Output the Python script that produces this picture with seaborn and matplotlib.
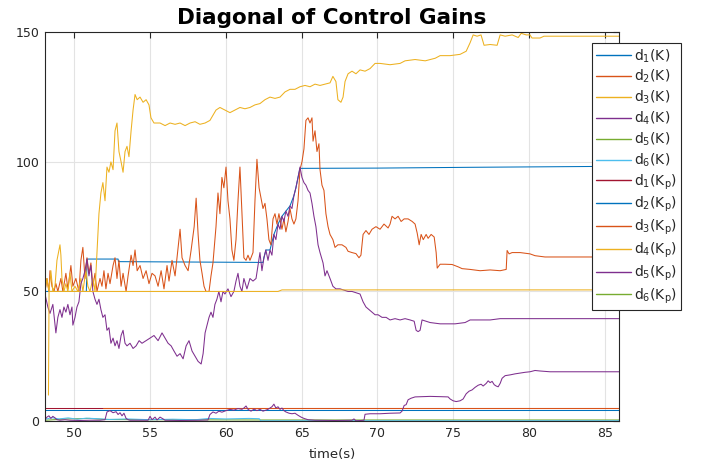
import matplotlib
matplotlib.use("Agg")
import matplotlib.pyplot as plt
import seaborn as sns

# ---- diagonal gains of K ----
d1_K_t = [48.07, 50.80, 50.84, 52.89, 52.92, 62.45, 62.51, 62.64, 62.91, 63.17, 63.44,
          63.70, 63.96, 64.23, 64.49, 64.62, 64.76, 64.89, 70.0, 76.0, 86.0]
d1_K_v = [50.0, 50.0, 62.5, 62.5, 61.5, 61.2, 63.0, 66.0, 66.0, 72.0, 76.0,
          79.0, 81.0, 83.0, 87.0, 90.0, 94.0, 97.5, 97.6, 97.9, 98.3]

d2_K_t = [48.07, 48.20, 48.33, 48.40, 48.53, 48.66, 48.79, 48.92, 49.12, 49.25, 49.45, 49.58,
          49.78, 49.91, 50.11, 50.31, 50.44, 50.57, 50.71, 50.84, 50.97, 51.10, 51.23, 51.37,
          51.50, 51.70, 51.83, 51.96, 52.09, 52.23, 52.36, 52.56, 52.69, 52.82, 52.95, 53.09,
          53.22, 53.42, 53.55, 53.75, 53.88, 54.01, 54.15, 54.34, 54.54, 54.74, 54.93, 55.13,
          55.33, 55.53, 55.73, 55.92, 56.12, 56.25, 56.45, 56.65, 56.85, 56.98, 57.11, 57.31,
          57.51, 57.71, 57.91, 58.04, 58.17, 58.29, 58.43, 58.56, 58.69, 58.89, 59.02, 59.15,
          59.35, 59.48, 59.61, 59.74, 59.87, 60.01, 60.14, 60.27, 60.40, 60.53, 60.67, 60.80,
          60.93, 61.06, 61.19, 61.33, 61.46, 61.59, 61.79, 61.92, 62.05, 62.19, 62.32, 62.45,
          62.58, 62.71, 62.84, 62.97, 63.11, 63.24, 63.37, 63.50, 63.70, 63.83, 63.96, 64.10,
          64.23, 64.36, 64.49, 64.62, 64.76, 64.89, 65.02, 65.15, 65.28, 65.42, 65.55, 65.68,
          65.75, 65.88, 66.01, 66.14, 66.21, 66.34, 66.47, 66.60, 66.74, 66.87, 67.06, 67.20,
          67.39, 67.66, 67.92, 68.06, 68.32, 68.58, 68.78, 68.91, 69.05, 69.24, 69.44, 69.64,
          69.90, 70.17, 70.43, 70.70, 70.83, 70.96, 71.16, 71.36, 71.56, 71.76, 72.02, 72.29,
          72.48, 72.62, 72.75, 72.88, 73.02, 73.21, 73.34, 73.54, 73.74, 73.87, 73.94, 74.13,
          74.46, 74.92, 75.32, 75.58, 76.11, 76.77, 77.43, 78.09, 78.49, 78.55, 78.68, 78.88,
          79.41, 80.06, 80.39, 81.05, 86.0]
d2_K_v = [50, 55, 50, 58, 52, 50, 53, 50, 55, 50, 57, 51,
          60, 52, 55, 50, 62, 67, 55, 63, 57, 61, 52, 57,
          50, 55, 52, 58, 51, 57, 53, 60, 63, 55, 62, 52,
          57, 50, 56, 64, 60, 66, 58, 60, 55, 58, 53, 57,
          56, 52, 58, 51, 60, 54, 62, 56, 67, 74, 63, 60,
          58, 66, 75, 86, 72, 62, 57, 52, 50, 50, 56, 61,
          75, 88, 80, 94, 90, 98, 85, 78, 66, 62, 70, 85,
          98, 80, 63, 62, 64, 62, 65, 85, 101, 90, 86, 82,
          84, 78, 70, 68, 78, 80, 76, 80, 74, 78, 73, 77,
          82, 78, 76, 78, 85, 97, 100, 105, 116, 117, 115, 117,
          108, 112, 104, 107, 97, 91, 89, 80, 75, 72, 70, 67,
          68, 68, 67, 65.5, 65, 64.6, 63, 64, 72, 73.5, 72, 74,
          75, 74, 76, 74.5, 76, 79, 78, 79, 77, 78, 78, 77,
          76, 72.5, 68, 72, 70, 72, 70.5, 72, 71, 65, 59, 60.5,
          60.5, 60.4, 59.5, 58.8, 58.5, 58, 58.3, 58, 58.5, 65.8, 64.5, 65,
          65, 64.5, 63.8, 63.3, 63.3]

d3_K_t = [48.07, 48.20, 48.33, 48.46, 48.59, 48.73, 48.86, 48.99, 49.06, 49.12, 49.19, 49.32,
          49.45, 49.58, 49.72, 49.85, 50.05, 50.24, 50.44, 50.57, 50.77, 50.90, 51.04, 51.23,
          51.37, 51.50, 51.63, 51.76, 51.89, 52.03, 52.16, 52.29, 52.42, 52.56, 52.69, 52.82,
          52.95, 53.09, 53.22, 53.35, 53.48, 53.61, 53.75, 53.88, 54.01, 54.15, 54.34, 54.54,
          54.74, 54.93, 55.06, 55.26, 55.66, 55.99, 56.32, 56.65, 56.98, 57.31, 57.64, 57.97,
          58.29, 58.63, 58.95, 59.15, 59.35, 59.61, 59.94, 60.27, 60.60, 60.93, 61.26, 61.59,
          61.92, 62.25, 62.58, 62.91, 63.24, 63.57, 63.90, 64.23, 64.56, 64.89, 65.22, 65.55,
          65.88, 66.21, 66.54, 66.87, 67.06, 67.26, 67.39, 67.59, 67.73, 67.86, 68.06, 68.32,
          68.58, 68.85, 69.18, 69.51, 69.84, 70.17, 70.83, 71.49, 71.82, 72.48, 73.15, 73.81,
          74.13, 74.79, 75.45, 75.85, 76.11, 76.31, 76.57, 76.83, 77.03, 77.43, 77.89, 78.09,
          78.42, 78.88, 79.28, 79.48, 79.81, 80.06, 80.19, 80.72, 80.98, 86.0]
d3_K_v = [50, 55, 50, 58, 50, 52, 62, 66, 68, 64, 55, 50,
          53, 50, 57, 50, 52, 50, 55, 50, 58, 52, 50, 55,
          50, 65, 80, 88, 92, 85, 98, 96, 100, 97, 112, 115,
          104, 100, 96, 104, 106, 102, 112, 120, 126, 124, 125, 123,
          124, 122, 117, 115, 115, 114, 115, 114.5, 115, 114, 115, 115.5,
          114.5, 115, 116, 118, 120, 121, 120, 119, 120, 121, 120.5, 121,
          122, 122.5, 124, 125, 124.5, 125, 127, 128, 128, 129, 129.5, 129,
          130, 129.5, 130, 130.5, 133, 131, 124, 123, 125, 131, 134, 135,
          134, 135.5, 135, 136, 138, 138, 137.5, 138, 139, 139.5, 139, 140,
          141, 141, 141.5, 142.7, 146, 149, 148.5, 149, 145, 145.3, 145, 149,
          148.5, 149, 148, 149.6, 149, 149, 147.8, 147.8, 148.5, 148.5]

d4_K_t = [48.07, 48.26, 48.40, 48.59, 48.79, 48.92, 49.06, 49.19, 49.32, 49.45, 49.58, 49.72,
          49.85, 49.91, 50.05, 50.18, 50.31, 50.44, 50.57, 50.71, 50.84, 50.97, 51.10, 51.23,
          51.37, 51.50, 51.63, 51.76, 51.89, 52.03, 52.16, 52.29, 52.42, 52.56, 52.69, 52.82,
          52.95, 53.09, 53.22, 53.35, 53.48, 53.68, 53.88, 54.08, 54.28, 54.47, 54.74, 55.00,
          55.26, 55.53, 55.79, 55.99, 56.19, 56.39, 56.58, 56.78, 56.98, 57.18, 57.38, 57.57,
          57.77, 57.97, 58.17, 58.37, 58.50, 58.63, 58.76, 58.89, 59.02, 59.15, 59.28, 59.41,
          59.54, 59.68, 59.81, 59.94, 60.14, 60.34, 60.53, 60.67, 60.80, 60.93, 61.06, 61.19,
          61.39, 61.59, 61.79, 61.99, 62.12, 62.25, 62.38, 62.51, 62.64, 62.78, 62.91, 63.04,
          63.17, 63.30, 63.44, 63.57, 63.70, 63.83, 63.96, 64.10, 64.23, 64.36, 64.49, 64.62,
          64.76, 64.89, 65.02, 65.15, 65.28, 65.42, 65.55, 65.68, 65.81, 65.94, 66.08, 66.21,
          66.41, 66.54, 66.67, 66.87, 67.06, 67.26, 67.53, 67.79, 68.06, 68.32, 68.58, 68.85,
          69.05, 69.24, 69.44, 69.64, 69.84, 70.04, 70.30, 70.57, 70.83, 71.16, 71.49, 71.82,
          72.15, 72.42, 72.55, 72.68, 72.81, 72.94, 73.21, 73.47, 74.13, 75.12, 75.78, 76.11,
          76.77, 77.43, 78.09, 79.41, 86.0]
d4_K_v = [49, 44, 41.5, 45, 34, 40, 43, 40, 44, 42, 45, 41,
          44, 37, 40, 44, 46, 53, 55, 58, 62.5, 56, 60, 50,
          47, 45, 47, 43, 40, 41, 35, 36, 30, 32, 29, 31,
          28, 33, 35, 30, 29, 30, 28, 29, 31, 30, 31, 32,
          33, 31, 34, 32, 30, 29, 27, 25, 26, 24, 29, 31,
          27, 25, 23, 22, 26, 34, 37, 40, 42, 40, 45, 47,
          50, 46, 50, 49, 51, 48, 50, 54, 57, 52, 50, 55,
          51, 55, 54, 55, 60, 65, 58, 63, 66, 62, 66, 64,
          72, 70, 76, 74, 79, 77, 81, 79, 83, 82, 87, 90,
          94, 98, 94, 92, 91, 89, 88, 84, 79, 75, 68, 65,
          61, 56, 58, 55, 52, 51, 51, 50.5, 50, 50, 49.5, 49,
          46, 44, 43, 42, 41, 41, 40, 40, 39, 39.5, 39, 39.5,
          39, 38.5, 35, 34.5, 35, 39, 38.5, 38, 37.5, 37.5, 38, 39,
          39, 39, 39.5, 39.5, 39.5]

d5_K_t = [48.07, 49.5, 51.0, 52.0, 55.0, 62.3, 86.0]
d5_K_v = [0.3, 0.8, 1.0, 0.6, 0.5, 0.4, 0.4]

d6_K_t = [48.07, 48.5, 49.0, 49.6, 50.2, 50.8, 51.5, 52.3, 53.5, 55.0, 56.5, 58.0,
          58.9, 60.0, 61.5, 62.2, 62.3, 86.0]
d6_K_v = [0.6, 1.3, 0.8, 1.2, 0.7, 1.1, 0.9, 0.6, 0.8, 0.5, 0.7, 0.5,
          1.0, 0.8, 1.0, 0.9, 0.1, 0.1]

# ---- diagonal gains of Kp ----
d1_Kp_t = [48.07, 86.0]
d1_Kp_v = [5.0, 5.0]

d2_Kp_t = [48.07, 86.0]
d2_Kp_v = [4.4, 4.4]

d3_Kp_t = [51.90, 86.0]
d3_Kp_v = [5.0, 5.0]

d4_Kp_t = [48.30, 48.34, 63.44, 63.70, 86.0]
d4_Kp_v = [10.0, 50.0, 50.0, 50.6, 50.6]

d5_Kp_t = [48.07, 48.20, 48.33, 48.46, 48.59, 48.73, 48.86, 49.06, 49.39, 49.72, 50.38, 51.04,
           51.70, 52.03, 52.16, 52.36, 52.56, 52.76, 52.89, 53.02, 53.15, 53.28, 53.42, 53.55,
           53.68, 54.34, 54.87, 55.00, 55.13, 55.33, 55.46, 55.66, 55.86, 55.99, 56.98, 58.29,
           58.82, 58.95, 59.15, 59.35, 59.54, 59.74, 60.01, 60.27, 60.53, 60.80, 61.06, 61.19,
           61.33, 61.46, 61.66, 61.86, 62.05, 62.25, 62.45, 62.64, 62.78, 62.91, 63.04, 63.17,
           63.30, 63.44, 63.57, 63.70, 63.83, 63.96, 64.17, 64.36, 64.56, 64.76, 64.96, 65.15,
           65.42, 65.88, 67.20, 68.32, 68.45, 68.58, 68.91, 69.11, 69.18, 69.51, 70.17, 70.83,
           71.49, 71.62, 71.76, 71.89, 72.02, 72.22, 72.48, 73.47, 74.13, 74.66, 74.79, 74.99,
           75.19, 75.45, 75.65, 75.85, 76.04, 76.24, 76.44, 76.64, 76.83, 76.97, 77.17, 77.30,
           77.43, 77.56, 77.70, 77.83, 77.96, 78.09, 78.22, 78.42, 78.75, 79.08, 79.41, 79.74,
           80.06, 80.39, 80.72, 81.38, 86.0]
d5_Kp_v = [0.5, 1.5, 2.0, 1.0, 1.8, 1.2, 0.5, 0.3, 0.5, 0.3, 0.2, 0.3,
           0.3, 0.5, 3.5, 4.0, 3.2, 3.6, 2.5, 3.2, 2.0, 3.0, 1.0, 0.5,
           0.3, 0.3, 0.3, 1.8, 0.5, 1.5, 0.4, 1.5, 0.8, 0.3, 0.2, 0.3,
           0.4, 2.5, 3.5, 3.0, 3.8, 3.4, 4.0, 4.5, 4.2, 4.8, 4.5, 5.0,
           5.8, 4.5, 3.8, 4.6, 4.0, 4.5, 3.8, 4.2, 4.5, 5.0, 5.5, 6.5,
           5.0, 5.5, 4.5, 5.0, 4.0, 3.5, 3.0, 2.8, 3.0, 2.2, 1.5, 1.0,
           0.5, 0.3, 0.2, 0.3, 0.8, 0.1, 0.2, 0.3, 2.6, 2.8, 2.8, 3.0,
           3.1, 3.8, 6.0, 6.3, 8.2, 8.8, 9.3, 9.5, 9.4, 9.3, 8.5, 7.8,
           7.5, 7.8, 8.5, 10.5, 11.5, 12.0, 13.0, 13.8, 14.2, 13.5, 14.5, 15.5,
           14.8, 15.3, 14.0, 13.5, 13.2, 14.5, 16.5, 17.5, 17.8, 18.2, 18.5, 18.8,
           19.0, 19.5, 19.3, 19.0, 19.0]

d6_Kp_t = [48.07, 86.0]
d6_Kp_v = [0.05, 0.05]

labels = ["d$_1$(K)", "d$_2$(K)", "d$_3$(K)", "d$_4$(K)", "d$_5$(K)", "d$_6$(K)",
          "d$_1$(K$_\\mathrm{p}$)", "d$_2$(K$_\\mathrm{p}$)", "d$_3$(K$_\\mathrm{p}$)",
          "d$_4$(K$_\\mathrm{p}$)", "d$_5$(K$_\\mathrm{p}$)", "d$_6$(K$_\\mathrm{p}$)"]
x_ticks = [50, 55, 60, 65, 70, 75, 80, 85]
y_ticks = [0, 50, 100, 150]

series = [(d1_K_t, d1_K_v), (d2_K_t, d2_K_v), (d3_K_t, d3_K_v), (d4_K_t, d4_K_v),
          (d5_K_t, d5_K_v), (d6_K_t, d6_K_v), (d1_Kp_t, d1_Kp_v), (d2_Kp_t, d2_Kp_v),
          (d3_Kp_t, d3_Kp_v), (d4_Kp_t, d4_Kp_v), (d5_Kp_t, d5_Kp_v), (d6_Kp_t, d6_Kp_v)]

# classic line colour order, cycled
order = ["#0072BD", "#D95319", "#EDB120", "#7E2F8E", "#77AC30", "#4DBEEE", "#A2142F"]
colors = [order[i % len(order)] for i in range(len(series))]

sns.set_theme(style="white")
plt.rcParams["font.family"] = ["DejaVu Sans"]
plt.rcParams["mathtext.fontset"] = "dejavusans"
plt.rcParams["mathtext.default"] = "regular"

fig = plt.figure(figsize=(7.09, 4.63), dpi=100)
ax = fig.add_axes([0.063, 0.0907, 0.8105, 0.8395])

for (t, v), lab, c in zip(series, labels, colors):
    sns.lineplot(x=t, y=v, ax=ax, color=c, linewidth=0.75, label=lab,
                 sort=False, estimator=None)

ax.set_xlim(48.05, 85.95)
ax.set_ylim(0, 150)
ax.set_xticks(x_ticks)
ax.set_yticks(y_ticks)
ax.grid(True, color="#e3e3e3", linewidth=0.8)
ax.set_axisbelow(True)
ax.tick_params(direction="in", length=4, width=0.8, top=True, right=True,
               labelsize=9, colors="0.15", pad=4)
for s in ax.spines.values():
    s.set_color("0.15")
    s.set_linewidth(0.8)
    s.set_visible(True)

ax.set_xlabel("time(s)", fontsize=9.5, color="0.15", labelpad=6)
ax.set_ylabel("")
ax.set_title("Diagonal of Control Gains", fontsize=15.5, fontweight="bold",
             color="black", pad=6)

leg = ax.legend(loc="upper left", bbox_to_anchor=(0.9525, 0.9725), borderaxespad=0,
                fontsize=10, handlelength=2.5, handletextpad=0.25, labelspacing=0.25,
                borderpad=0.3, frameon=True, fancybox=False, framealpha=1)
leg.get_frame().set_edgecolor("0.15")
leg.get_frame().set_linewidth(0.8)
for line in leg.get_lines():
    line.set_linewidth(1.0)

fig.savefig("out.png", dpi=100)
